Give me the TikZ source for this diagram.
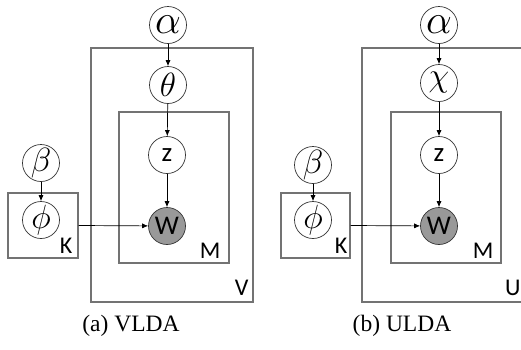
\documentclass[tikz,border=0pt]{standalone}
\usepackage{graphicx}
\usepackage{fontspec}
\setmainfont{Liberation Serif}
\newfontfamily\nodefont{Carlito}
\usetikzlibrary{arrows.meta,positioning}
\newcommand{\bigsym}[2]{\scalebox{#1}{$#2$}}

\begin{document}
\begin{tikzpicture}[x=1pt, y=-1pt,
    var/.style={draw=black!80, circle, minimum size=37pt, inner sep=0pt, line width=0.7pt, font=\nodefont\fontsize{27}{27}\selectfont},
    obs/.style={var, fill=black!40},
    grk/.style={var, font=\fontsize{24}{24}\selectfont},
    plate/.style={draw=black!55, line width=1.3pt, inner sep=0pt},
    plbl/.style={inner sep=0pt, font=\nodefont\fontsize{24}{24}\selectfont},
    arr/.style={-{Latex[length=6pt,width=5pt]}, line width=0.7pt},
    subcap/.style={font=\fontsize{23.5}{23.5}\selectfont}
]
\useasboundingbox (0,0) rectangle (521,349);
\clip (0,0) rectangle (521,349);

% (a) VLDA
\node[plate, minimum width=162pt, minimum height=254pt] (vplate) at (172,175) {};
\node[plate, minimum width=110pt, minimum height=151pt] (mplateA) at (174,187.5) {};
\node[plate, minimum width=70pt, minimum height=65pt] (kplateA) at (43,225.5) {};
\node[grk] (alphaA) at (168,25) {\bigsym{1.65}{\alpha}};
\node[grk] (thetaA) at (168,85) {\bigsym{1.35}{\theta}};
\node[var] (zA) at (167,155) {z};
\node[obs] (wA) at (167,226) {W};
\node[grk] (betaA) at (41,163) {\bigsym{1.35}{\beta}};
\node[grk] (phiA) at (41,220) {\bigsym{1.35}{\phi}};
\node[plbl, above left=5pt and 6pt of kplateA.south east] (klblA) {K};
\node[plbl, above left=5pt and 9pt of mplateA.south east] (mlblA) {M};
\node[plbl, above left=7pt and 5pt of vplate.south east] (vlbl) {V};

\draw[arr] (alphaA) -- (thetaA);
\draw[arr] (thetaA) -- (zA);
\draw[arr] (zA) -- (wA);
\draw[arr] (betaA) -- (phiA);
\draw[arr] (kplateA.east) -- (wA);

\node[subcap] (capA) at (131,326) {(a)\ VLDA};

% (b) ULDA
\node[plate, minimum width=166pt, minimum height=254pt] (uplate) at (445,175) {};
\node[plate, minimum width=110pt, minimum height=151pt] (mplateB) at (446,187.5) {};
\node[plate, minimum width=69pt, minimum height=65pt] (kplateB) at (315.5,225.5) {};
\node[grk] (alphaB) at (439,25) {\bigsym{1.65}{\alpha}};
\node[grk] (chiB) at (439,83) {\bigsym{1.35}{\chi}};
\node[var] (zB) at (439,155) {z};
\node[obs] (wB) at (439,226) {W};
\node[grk] (betaB) at (313,165) {\bigsym{1.35}{\beta}};
\node[grk] (phiB) at (313,220) {\bigsym{1.35}{\phi}};
\node[plbl, above left=5pt and 3pt of kplateB.south east] (klblB) {K};
\node[plbl, above left=5pt and 8pt of mplateB.south east] (mlblB) {M};
\node[plbl, above left=7pt and 8pt of uplate.south east] (ulbl) {U};

\draw[arr] (alphaB) -- (chiB);
\draw[arr] (chiB) -- (zB);
\draw[arr] (zB) -- (wB);
\draw[arr] (betaB) -- (phiB);
\draw[arr] (kplateB.east) -- (wB);

\node[subcap] (capB) at (402,326) {(b)\ ULDA};
\end{tikzpicture}
\end{document}
